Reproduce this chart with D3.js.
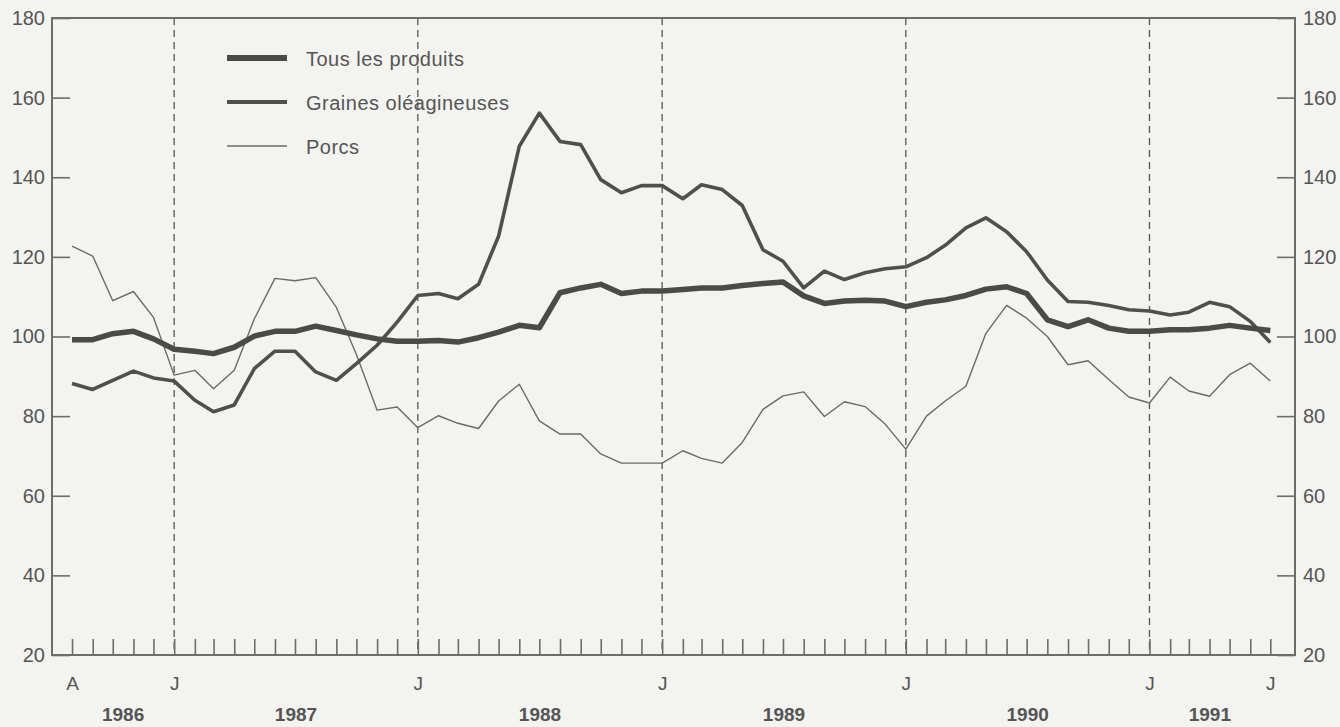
<!DOCTYPE html>
<html>
<head>
<meta charset="utf-8">
<script src="https://cdn.jsdelivr.net/npm/d3@7"></script>
<style>
  body { margin: 0; background: #f3f3f0; }
  svg { display: block; }
  text { font-family: "Liberation Sans", Arial, sans-serif; fill: #555; }
</style>
</head>
<body>
<svg id="chart"></svg>
<script>
// monthly data, Aug 1986 -> Jul 1991
var months = d3.timeMonths(new Date(1986, 7, 1), new Date(1991, 7, 1));

var tousProduits = [99.2, 99.2, 100.7, 101.3, 99.4, 96.8, 96.3, 95.7, 97.3, 100.1,
  101.3, 101.3, 102.6, 101.5, 100.4, 99.4, 98.8, 98.8, 99.0, 98.6,
  99.7, 101.1, 102.8, 102.2, 111.0, 112.2, 113.1, 110.8, 111.4, 111.4,
  111.8, 112.2, 112.2, 112.8, 113.3, 113.7, 110.2, 108.3, 108.9, 109.1,
  108.9, 107.5, 108.6, 109.2, 110.3, 111.9, 112.5, 110.8, 104.2, 102.5,
  104.2, 102.1, 101.3, 101.3, 101.7, 101.7, 102.1, 102.8, 102.1, 101.5];

var grainesOleagineuses = [88.2, 86.7, 89.0, 91.3, 89.6, 88.8, 84.0, 81.1, 82.8, 91.9,
  96.3, 96.3, 91.1, 89.0, 93.2, 97.8, 103.6, 110.3, 110.8, 109.5,
  113.1, 125.2, 147.8, 156.1, 149.0, 148.2, 139.4, 136.1, 137.9, 137.9,
  134.6, 138.1, 136.9, 132.9, 121.8, 118.9, 112.2, 116.4, 114.3, 116.0,
  117.0, 117.5, 119.8, 122.9, 127.3, 129.8, 126.3, 121.3, 114.2, 108.8,
  108.6, 107.8, 106.7, 106.4, 105.4, 106.1, 108.6, 107.5, 103.8, 98.5];

var porcs = [122.7, 120.2, 109.0, 111.3, 104.8, 90.3, 91.5, 86.9, 91.5, 104.4,
  114.6, 114.0, 114.8, 107.3, 95.5, 81.5, 82.3, 77.1, 80.1, 78.2,
  76.9, 83.8, 88.0, 78.8, 75.5, 75.5, 70.5, 68.2, 68.2, 68.2,
  71.3, 69.4, 68.2, 73.4, 81.7, 85.1, 86.1, 79.9, 83.6, 82.4,
  78.0, 71.7, 80.0, 83.8, 87.5, 100.8, 107.8, 104.6, 100.0, 92.9,
  93.9, 89.2, 84.8, 83.3, 89.8, 86.3, 85.0, 90.4, 93.3, 88.8];

var seriesNames = ["Tous les produits", "Graines oléagineuses", "Porcs"];
var yTicks = [20, 40, 60, 80, 100, 120, 140, 160, 180];
var monthLabels = [
  [new Date(1986, 7, 1), "A"], [new Date(1987, 0, 1), "J"], [new Date(1988, 0, 1), "J"],
  [new Date(1989, 0, 1), "J"], [new Date(1990, 0, 1), "J"], [new Date(1991, 0, 1), "J"],
  [new Date(1991, 6, 1), "J"]];
var years = [1986, 1987, 1988, 1989, 1990, 1991];
var janLines = [new Date(1987, 0, 1), new Date(1988, 0, 1), new Date(1989, 0, 1),
  new Date(1990, 0, 1), new Date(1991, 0, 1)];

var W = 1340, H = 727;
var mLeft = 52, mRight = 1295, mTop = 18, mBottom = 655;

var svg = d3.select("#chart").attr("width", W).attr("height", H);

var x = d3.scaleTime()
  .domain([new Date(1986, 6, 2), new Date(1991, 7, 7)])
  .range([mLeft, mRight]);
var y = d3.scaleLinear().domain([20, 180]).range([mBottom, mTop]);

var axisColor = "#6d6d68";

// dashed january lines
svg.selectAll(".jan").data(janLines).enter().append("line")
  .attr("x1", function(d) { return x(d); })
  .attr("x2", function(d) { return x(d); })
  .attr("y1", mTop).attr("y2", mBottom)
  .attr("stroke", "#555").attr("stroke-width", 1.3)
  .attr("stroke-dasharray", "7,5");

// left and right axes, ticks pointing inwards
var gl = svg.append("g").attr("transform", "translate(" + mLeft + ",0)")
  .call(d3.axisLeft(y).tickValues(yTicks).tickSize(-18).tickSizeOuter(0).tickPadding(7));
var gr = svg.append("g").attr("transform", "translate(" + mRight + ",0)")
  .call(d3.axisRight(y).tickValues(yTicks).tickSize(-18).tickSizeOuter(0).tickPadding(8));
[gl, gr].forEach(function(g) {
  g.select(".domain").remove();
  g.selectAll("line").attr("stroke", axisColor).attr("stroke-width", 1.6);
  g.selectAll("text").style("font-size", "20px").attr("fill", "#5a5a5a");
});
gr.selectAll("text").attr("fill", "#6e6e6e");

// month ticks along the bottom
var gb = svg.append("g").attr("transform", "translate(0," + mBottom + ")")
  .call(d3.axisBottom(x).tickValues(months).tickSize(-16).tickSizeOuter(0).tickFormat(""));
gb.select(".domain").remove();
gb.selectAll("line").attr("stroke", axisColor).attr("stroke-width", 1.6);

// month letters
var gm = svg.append("g").attr("transform", "translate(0," + mBottom + ")")
  .call(d3.axisBottom(x).tickValues(monthLabels.map(function(d) { return d[0]; }))
    .tickSize(0).tickPadding(22)
    .tickFormat(function(d, i) { return monthLabels[i][1]; }));
gm.select(".domain").remove();
gm.selectAll("text").style("font-size", "19px").attr("fill", "#5a5a5a");

// year labels, centred in the visible part of each year
svg.selectAll(".year").data(years).enter().append("text")
  .attr("x", function(d) {
    var a = Math.max(+new Date(d, 0, 1), +months[0]);
    var b = Math.min(+new Date(d + 1, 0, 1), +months[months.length - 1]);
    return (x(new Date(a)) + x(new Date(b))) / 2;
  })
  .attr("y", 721)
  .attr("text-anchor", "middle")
  .style("font-size", "19px").style("font-weight", "bold")
  .attr("fill", "#4a4a4a")
  .text(function(d) { return d; });

// frame
svg.append("rect")
  .attr("x", mLeft).attr("y", mTop)
  .attr("width", mRight - mLeft).attr("height", mBottom - mTop)
  .attr("fill", "none").attr("stroke", axisColor).attr("stroke-width", 2);

// lines
var line = d3.line()
  .x(function(d, i) { return x(months[i]); })
  .y(function(d) { return y(d); });

var series = [
  { values: porcs, w: 1.4, color: "#6a6a66" },
  { values: grainesOleagineuses, w: 3.6, color: "#4f4f4c" },
  { values: tousProduits, w: 5.5, color: "#4a4a47" }
];
svg.selectAll(".serie").data(series).enter().append("path")
  .attr("d", function(d) { return line(d.values); })
  .attr("fill", "none")
  .attr("stroke", function(d) { return d.color; })
  .attr("stroke-width", function(d) { return d.w; })
  .attr("stroke-linejoin", "round");

// legend
var legend = [
  { name: seriesNames[0], w: 6, color: "#4a4a47" },
  { name: seriesNames[1], w: 4, color: "#4f4f4c" },
  { name: seriesNames[2], w: 1.4, color: "#6a6a66" }
];
var lg = svg.selectAll(".leg").data(legend).enter().append("g")
  .attr("transform", function(d, i) { return "translate(227," + (58 + i * 44) + ")"; });
lg.append("line").attr("x1", 0).attr("x2", 60).attr("y1", 0).attr("y2", 0)
  .attr("stroke", function(d) { return d.color; })
  .attr("stroke-width", function(d) { return d.w; });
lg.append("text").attr("x", 79).attr("y", 8)
  .style("font-size", "20px").style("letter-spacing", "0.5px")
  .attr("fill", "#5a5a5a")
  .text(function(d) { return d.name; });
</script>
</body>
</html>
